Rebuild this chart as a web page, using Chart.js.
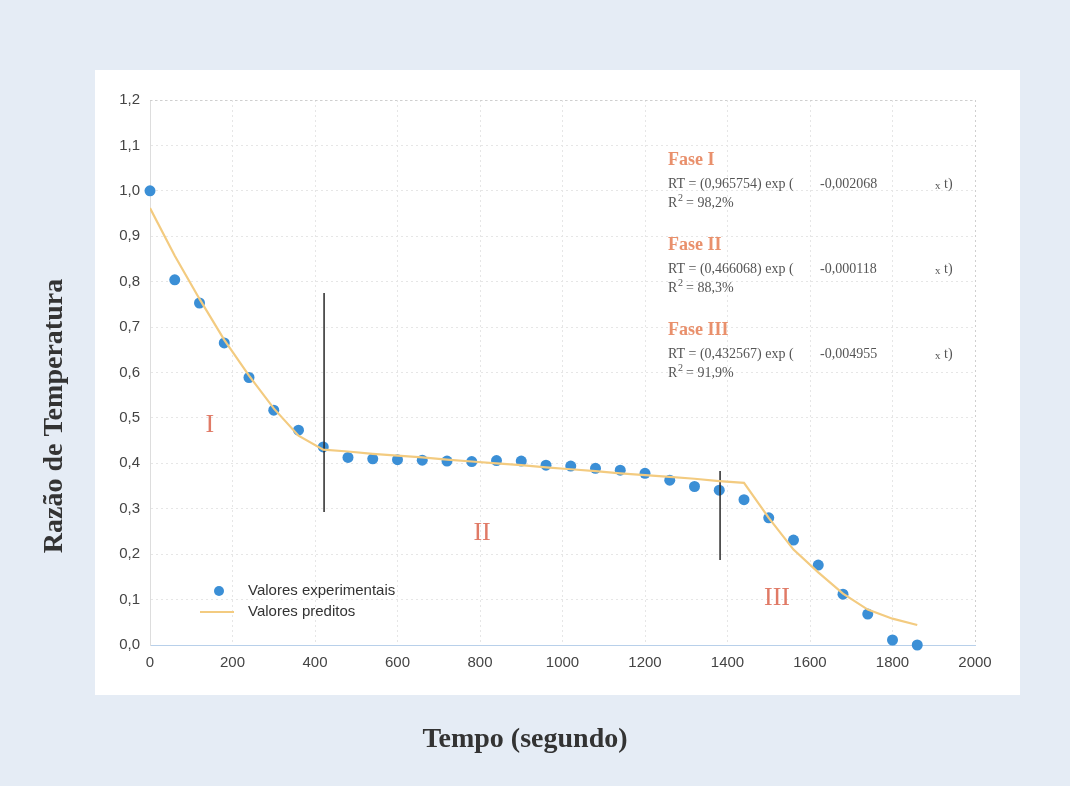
<!DOCTYPE html>
<html>
<head>
<meta charset="utf-8">
<script src="https://cdn.jsdelivr.net/npm/chart.js@4"></script>
<style>
  html, body { margin: 0; padding: 0; background: #e5ecf5; }
  #wrap { width: 1070px; height: 786px; }
</style>
</head>
<body>
<div id="wrap"><canvas id="c" width="1070" height="786"></canvas></div>
<script>
// ---- data ----
const times = [0, 60, 120, 180, 240, 300, 360, 420, 480, 540, 600, 660, 720, 780, 840, 900,
               960, 1020, 1080, 1140, 1200, 1260, 1320, 1380, 1440, 1500, 1560, 1620, 1680, 1740, 1800, 1860];
const experimental = [1.000, 0.804, 0.753, 0.665, 0.589, 0.517, 0.473, 0.436, 0.413, 0.410, 0.408, 0.407,
                      0.405, 0.404, 0.406, 0.405, 0.396, 0.394, 0.389, 0.385, 0.378, 0.363, 0.349, 0.341,
                      0.320, 0.280, 0.231, 0.176, 0.112, 0.068, 0.011, 0.000];
const predicted = [0.962, 0.857, 0.762, 0.672, 0.593, 0.521, 0.461, 0.430, 0.426, 0.421, 0.417, 0.413,
                   0.408, 0.404, 0.400, 0.396, 0.391, 0.387, 0.383, 0.378, 0.374, 0.370, 0.366, 0.361,
                   0.357, 0.280, 0.210, 0.160, 0.113, 0.078, 0.058, 0.044];
const separator1X = [422, 422];
const separator1Y = [0.775, 0.293];
const separator2X = [1382, 1382];
const separator2Y = [0.383, 0.187];
const xTicks = [0, 200, 400, 600, 800, 1000, 1200, 1400, 1600, 1800, 2000];
const yTicks = [0.0, 0.1, 0.2, 0.3, 0.4, 0.5, 0.6, 0.7, 0.8, 0.9, 1.0, 1.1, 1.2];
const seriesLabels = ['Valores experimentais', 'Valores preditos'];
const phaseLabels = ['I', 'II', 'III'];
const phaseLabelX = [145, 805, 1520];
const phaseLabelY = [0.484, 0.247, 0.103];
const phaseTitles = ['Fase I', 'Fase II', 'Fase III'];
const phaseCoef = ['(0,965754)', '(0,466068)', '(0,432567)'];
const phaseRate = ['-0,002068', '-0,000118', '-0,004955'];
const phaseR2 = ['98,2%', '88,3%', '91,9%'];
const xTitle = 'Tempo (segundo)';
const yTitle = 'Razão de Temperatura';

const pts = (xs, ys) => xs.map((x, i) => ({ x: x, y: ys[i] }));

const POINT_COLOR = '#3b8fd6';
const LINE_COLOR = '#f3cb80';
const ROMAN_COLOR = '#e07a66';
const FASE_COLOR = '#e9906c';

const decor = {
  id: 'decor',
  beforeDraw(chart) {
    const ctx = chart.ctx;
    ctx.save();
    ctx.fillStyle = '#e5ecf5';
    ctx.fillRect(0, 0, chart.width, chart.height);
    ctx.fillStyle = '#ffffff';
    ctx.fillRect(95, 70, 925, 625);
    ctx.restore();
  },
  afterDatasetsDraw(chart) {
    const ctx = chart.ctx;
    const a = chart.chartArea;
    const xs = chart.scales.x, ys = chart.scales.y;
    ctx.save();
    // top and right frame (dotted)
    ctx.strokeStyle = '#cfcfcf';
    ctx.lineWidth = 1;
    ctx.setLineDash([2, 3]);
    ctx.beginPath();
    ctx.moveTo(a.left, a.top + 0.5); ctx.lineTo(a.right, a.top + 0.5);
    ctx.moveTo(a.right + 0.5, a.top); ctx.lineTo(a.right + 0.5, a.bottom);
    ctx.stroke();
    ctx.setLineDash([]);

    // roman numerals
    ctx.fillStyle = ROMAN_COLOR;
    ctx.font = '26px "Liberation Serif"';
    ctx.textAlign = 'center';
    ctx.textBaseline = 'middle';
    phaseLabels.forEach((t, i) => {
      ctx.fillText(t, xs.getPixelForValue(phaseLabelX[i]), ys.getPixelForValue(phaseLabelY[i]));
    });

    // equations
    const baseY = [160, 245, 330];
    ctx.textAlign = 'left';
    ctx.textBaseline = 'middle';
    phaseTitles.forEach((t, i) => {
      const y0 = baseY[i];
      ctx.fillStyle = FASE_COLOR;
      ctx.font = 'bold 18px "Liberation Serif"';
      ctx.fillText(t, 668, y0);
      ctx.fillStyle = '#555555';
      ctx.font = '14px "Liberation Serif"';
      ctx.fillText('RT = ' + phaseCoef[i] + ' exp (', 668, y0 + 24);
      ctx.fillText(phaseRate[i], 820, y0 + 24);
      ctx.font = '11px "Liberation Serif"';
      ctx.fillText('x', 935, y0 + 26);
      ctx.font = '14px "Liberation Serif"';
      ctx.fillText('t)', 944, y0 + 24);
      ctx.fillText('R', 668, y0 + 43);
      ctx.font = '10px "Liberation Serif"';
      ctx.fillText('2', 678, y0 + 38);
      ctx.font = '14px "Liberation Serif"';
      ctx.fillText('= ' + phaseR2[i], 686, y0 + 43);
    });

    // legend
    ctx.fillStyle = POINT_COLOR;
    ctx.beginPath();
    ctx.arc(219, 591, 5, 0, Math.PI * 2);
    ctx.fill();
    ctx.strokeStyle = LINE_COLOR;
    ctx.lineWidth = 2;
    ctx.beginPath();
    ctx.moveTo(200, 612); ctx.lineTo(234, 612);
    ctx.stroke();
    ctx.fillStyle = '#333333';
    ctx.font = '15px "Liberation Sans"';
    ctx.fillText(seriesLabels[0], 248, 591);
    ctx.fillText(seriesLabels[1], 248, 612);

    // axis titles
    ctx.fillStyle = '#333333';
    ctx.font = 'bold 28px "Liberation Serif"';
    ctx.textAlign = 'center';
    ctx.textBaseline = 'middle';
    ctx.fillText(xTitle, 525, 740);
    ctx.translate(55, 416);
    ctx.rotate(-Math.PI / 2);
    ctx.fillText(yTitle, 0, 0);
    ctx.restore();
  }
};

new Chart(document.getElementById('c'), {
  type: 'scatter',
  data: {
    datasets: [
      {
        label: seriesLabels[1],
        data: pts(times, predicted),
        showLine: true,
        borderColor: LINE_COLOR,
        borderWidth: 2.2,
        pointRadius: 0,
        tension: 0,
        order: 0
      },
      {
        label: 'sep1',
        data: pts(separator1X, separator1Y),
        showLine: true,
        borderColor: '#2a2a2a',
        borderWidth: 1.5,
        pointRadius: 0,
        order: 0
      },
      {
        label: 'sep2',
        data: pts(separator2X, separator2Y),
        showLine: true,
        borderColor: '#2a2a2a',
        borderWidth: 1.5,
        pointRadius: 0,
        order: 0
      },
      {
        label: seriesLabels[0],
        data: pts(times, experimental),
        backgroundColor: POINT_COLOR,
        borderColor: POINT_COLOR,
        pointRadius: 5.5,
        pointBorderWidth: 0,
        clip: false,
        order: 1
      }
    ]
  },
  options: {
    responsive: false,
    animation: false,
    layout: { padding: { left: 0, right: 95, top: 100, bottom: 101 } },
    plugins: { legend: { display: false }, tooltip: { enabled: false } },
    scales: {
      x: {
        type: 'linear',
        min: 0, max: 2000,
        afterBuildTicks: (s) => { s.ticks = xTicks.map(v => ({ value: v })); },
        afterFit: (s) => { s.height = 40; },
        ticks: {
          color: '#444444',
          font: { family: '"Liberation Sans"', size: 15 },
          padding: 9,
          callback: (v) => String(v)
        },
        grid: { color: '#e6e6e6', drawTicks: false },
        border: { color: '#b8d0ea', dash: [2, 3] }
      },
      y: {
        type: 'linear',
        min: 0, max: 1.2,
        afterBuildTicks: (s) => { s.ticks = yTicks.map(v => ({ value: v })); },
        afterFit: (s) => { s.width = 150; },
        ticks: {
          color: '#444444',
          font: { family: '"Liberation Sans"', size: 15 },
          padding: 10,
          callback: (v) => Number(v).toFixed(1).replace('.', ',')
        },
        grid: { color: '#e6e6e6', drawTicks: false },
        border: { color: '#dddddd', dash: [2, 3] }
      }
    }
  },
  plugins: [decor]
});
</script>
</body>
</html>
